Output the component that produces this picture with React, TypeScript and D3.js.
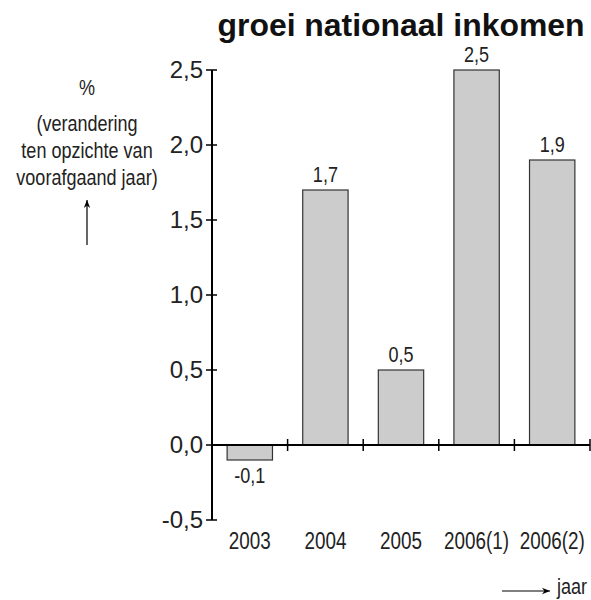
import React from "react";
import * as d3 from "d3";

const years = ["2003", "2004", "2005", "2006(1)", "2006(2)"];
const growth = [-0.1, 1.7, 0.5, 2.5, 1.9];
const yTicks = [-0.5, 0, 0.5, 1.0, 1.5, 2.0, 2.5];
const yLabelLines = ["%", "(verandering", "ten opzichte van", "voorafgaand jaar)"];

const fmt = (v: number) => v.toFixed(1).replace(".", ",");

// condensed text: the reference uses a narrow face, so squeeze Liberation Sans horizontally
function NText(props: { x: number; y: number; size: number; anchor?: string; children: React.ReactNode }) {
  return (
    <text
      transform={`translate(${props.x},${props.y}) scale(0.82,1)`}
      textAnchor={props.anchor || "middle"}
      fontSize={props.size}
      fill="#222"
    >
      {props.children}
    </text>
  );
}

export default function App() {
  const W = 591, H = 600;
  const x = d3.scaleBand().domain(years).range([212, 590]).padding(0);
  const y = d3.scaleLinear().domain([-0.5, 2.5]).range([520, 70]);
  const barW = x.bandwidth() * 0.6;
  const sans = "'Liberation Sans', Arial, sans-serif";

  return (
    <svg width={W} height={H} style={{ position: "absolute", left: 0, top: 0 }} fontFamily={sans}>
      <defs>
        <marker id="ah" viewBox="0 0 10 10" refX="10" refY="5" markerWidth="11" markerHeight="8" orient="auto" markerUnits="userSpaceOnUse">
          <path d="M0,1 L10,5 L0,9 L3,5 Z" fill="#000" />
        </marker>
      </defs>
      <text x={401} y={36} textAnchor="middle" fontSize={31} fontWeight="bold" fill="#111" textLength={367} lengthAdjust="spacingAndGlyphs">
        groei nationaal inkomen
      </text>

      {/* bars */}
      {years.map((yr, i) => {
        const v = growth[i];
        const cx = (x(yr) as number) + x.bandwidth() / 2;
        const top = y(Math.max(v, 0));
        const bot = y(Math.min(v, 0));
        return (
          <g key={yr}>
            <rect x={cx - barW / 2} y={top} width={barW} height={bot - top} fill="#cccccc" stroke="#333" strokeWidth={1.2} />
            <NText x={cx} y={v >= 0 ? top - 8 : bot + 23} size={22}>
              {fmt(v)}
            </NText>
          </g>
        );
      })}

      {/* y axis */}
      <line x1={212} x2={212} y1={y(2.5)} y2={y(-0.5)} stroke="#000" strokeWidth={2} />
      {yTicks.map((t) => (
        <g key={t}>
          <line x1={206} x2={217} y1={y(t)} y2={y(t)} stroke="#000" strokeWidth={1.5} />
          <text x={203} y={y(t) + 8} textAnchor="end" fontSize={24} fill="#222">
            {fmt(t)}
          </text>
        </g>
      ))}

      {/* x axis */}
      <line x1={212} x2={590} y1={y(0)} y2={y(0)} stroke="#000" strokeWidth={2} />
      {years.map((yr) => {
        const xr = (x(yr) as number) + x.bandwidth();
        const cx = (x(yr) as number) + x.bandwidth() / 2;
        return (
          <g key={yr}>
            <line x1={xr} x2={xr} y1={y(0) - 6} y2={y(0) + 6} stroke="#000" strokeWidth={1.5} />
            <NText x={cx} y={549} size={23}>
              {yr}
            </NText>
          </g>
        );
      })}

      {/* y label */}
      {yLabelLines.map((l, i) => (
        <NText key={l} x={87} y={i === 0 ? 95 : 131 + (i - 1) * 27} size={22}>
          {l}
        </NText>
      ))}
      <line x1={87} y1={245} x2={87} y2={200} stroke="#000" strokeWidth={1.2} markerEnd="url(#ah)" />

      {/* x label */}
      <line x1={502} y1={591} x2={550} y2={591} stroke="#000" strokeWidth={1.2} markerEnd="url(#ah)" />
      <NText x={557} y={594} size={22} anchor="start">
        jaar
      </NText>
    </svg>
  );
}
